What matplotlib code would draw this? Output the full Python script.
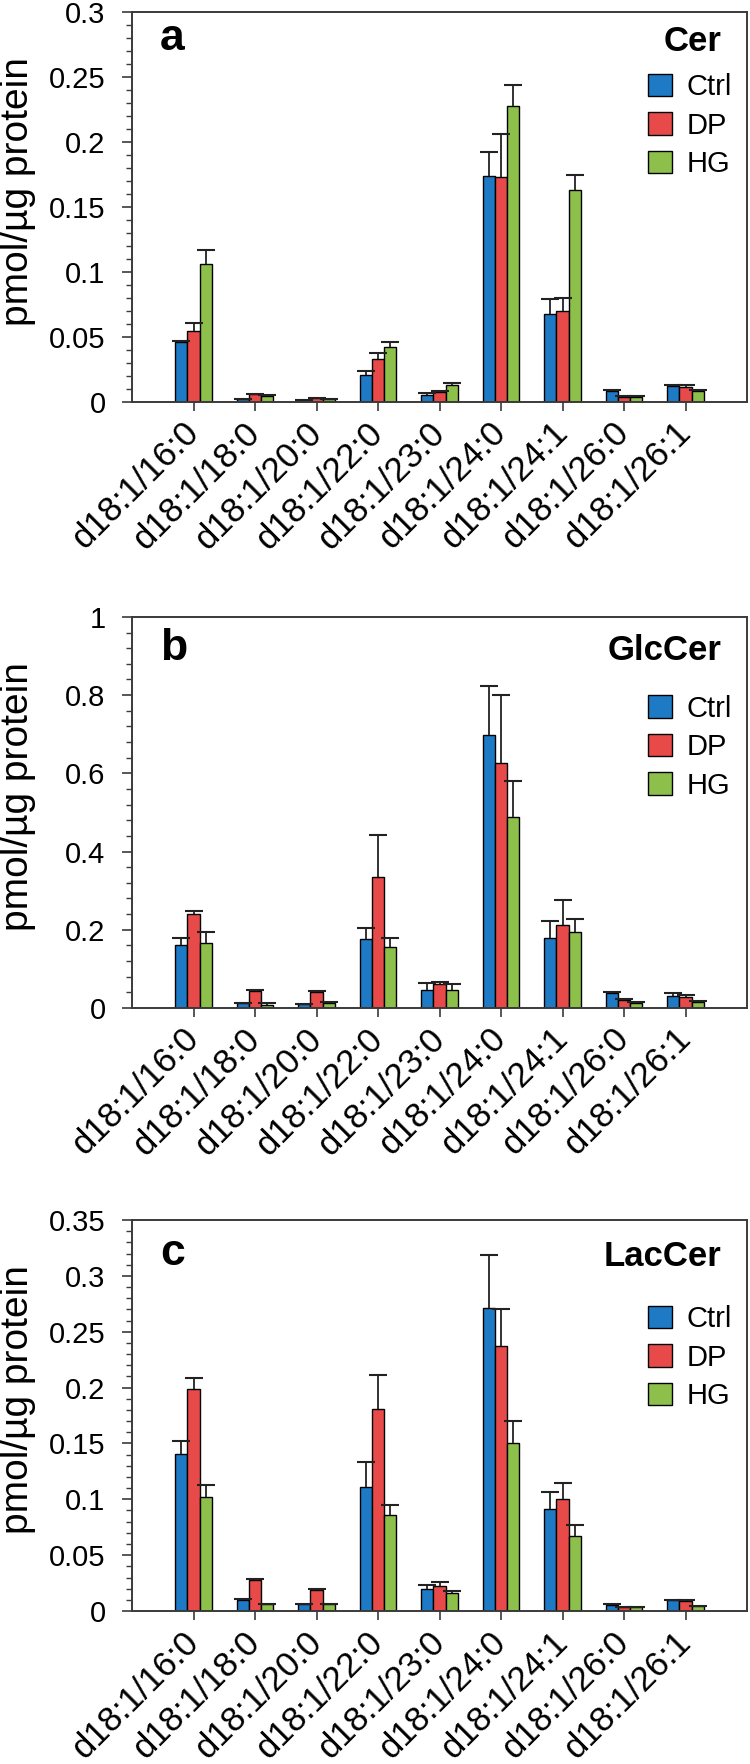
import numpy as np
import matplotlib
matplotlib.use("Agg")
import matplotlib.pyplot as plt
from matplotlib.patches import Patch
from matplotlib.ticker import MultipleLocator, FuncFormatter

plt.rcParams['font.family'] = ['Liberation Sans', 'DejaVu Sans']

categories = ["d18:1/16:0", "d18:1/18:0", "d18:1/20:0", "d18:1/22:0", "d18:1/23:0",
              "d18:1/24:0", "d18:1/24:1", "d18:1/26:0", "d18:1/26:1"]
groups = ["Ctrl", "DP", "HG"]
colors = ["#1f7ac6", "#e84a4a", "#8cc04a"]

# Panel a: Cer
cer_ctrl = [0.046, 0.002, 0.001, 0.021, 0.0056, 0.174, 0.068, 0.0087, 0.012]
cer_ctrl_err = [0.001, 0.0005, 0.0003, 0.003, 0.001, 0.018, 0.011, 0.0008, 0.0008]
cer_dp = [0.0546, 0.006, 0.003, 0.033, 0.0077, 0.173, 0.070, 0.004, 0.0115]
cer_dp_err = [0.006, 0.0005, 0.0003, 0.005, 0.001, 0.033, 0.010, 0.0005, 0.0015]
cer_hg = [0.106, 0.005, 0.002, 0.042, 0.0128, 0.228, 0.163, 0.004, 0.0085]
cer_hg_err = [0.011, 0.0005, 0.0003, 0.004, 0.002, 0.016, 0.012, 0.0005, 0.0004]

# Panel b: GlcCer
glc_ctrl = [0.162, 0.012, 0.010, 0.176, 0.047, 0.697, 0.179, 0.038, 0.030]
glc_ctrl_err = [0.018, 0.001, 0.001, 0.028, 0.016, 0.126, 0.043, 0.003, 0.008]
glc_dp = [0.240, 0.044, 0.041, 0.334, 0.060, 0.626, 0.213, 0.020, 0.027]
glc_dp_err = [0.008, 0.001, 0.0015, 0.107, 0.0055, 0.174, 0.063, 0.003, 0.007]
glc_hg = [0.165, 0.0085, 0.0136, 0.155, 0.046, 0.487, 0.193, 0.0136, 0.016]
glc_hg_err = [0.028, 0.0035, 0.001, 0.025, 0.014, 0.094, 0.035, 0.001, 0.001]

# Panel c: LacCer
lac_ctrl = [0.141, 0.0096, 0.0063, 0.111, 0.0197, 0.271, 0.091, 0.0057, 0.0096]
lac_ctrl_err = [0.0115, 0.0015, 0.0003, 0.022, 0.004, 0.048, 0.016, 0.0003, 0.0003]
lac_dp = [0.199, 0.028, 0.019, 0.181, 0.0224, 0.237, 0.100, 0.0036, 0.009]
lac_dp_err = [0.010, 0.0003, 0.0003, 0.030, 0.004, 0.033, 0.015, 0.0003, 0.0006]
lac_hg = [0.102, 0.006, 0.006, 0.086, 0.0164, 0.150, 0.067, 0.0036, 0.0045]
lac_hg_err = [0.011, 0.0003, 0.0003, 0.009, 0.002, 0.020, 0.010, 0.0003, 0.0003]

panels = [
    dict(letter="a", title="Cer", means=[cer_ctrl, cer_dp, cer_hg],
         errs=[cer_ctrl_err, cer_dp_err, cer_hg_err], ymax=0.3, major=0.05, minor=0.01,
         rect=[0.176, 0.7721, 0.82, 0.2211], leg_y=0.843, title_y=0.90, letter_y=0.903),
    dict(letter="b", title="GlcCer", means=[glc_ctrl, glc_dp, glc_hg],
         errs=[glc_ctrl_err, glc_dp_err, glc_hg_err], ymax=1.0, major=0.2, minor=0.04,
         rect=[0.176, 0.4286, 0.82, 0.2217], leg_y=0.801, title_y=0.89, letter_y=0.89),
    dict(letter="c", title="LacCer", means=[lac_ctrl, lac_dp, lac_hg],
         errs=[lac_ctrl_err, lac_dp_err, lac_hg_err], ymax=0.35, major=0.05, minor=0.01,
         rect=[0.176, 0.0867, 0.82, 0.2217], leg_y=0.782, title_y=0.882, letter_y=0.885),
]

fig = plt.figure(figsize=(7.5, 17.64), dpi=100)
x = np.arange(len(categories))
width = 0.2
offsets = [-0.2, 0.0, 0.2]
spine_col = "#3a3a3a"

def fmt(v, pos):
    return "%g" % round(v, 4)

for p in panels:
    ax = fig.add_axes(p["rect"])
    for i in range(3):
        vals = np.array(p["means"][i])
        errs = np.array(p["errs"][i])
        ax.bar(x + offsets[i], vals, width=width, color=colors[i],
               edgecolor="black", linewidth=1.0, zorder=2)
        eb = ax.errorbar(x + offsets[i], vals, yerr=[np.zeros_like(vals), errs],
                         fmt="none", ecolor="#222222", elinewidth=1.3,
                         capsize=6.5, capthick=1.5, zorder=3)
        for cl in eb.lines[1]:
            yd = np.asarray(cl.get_ydata(), dtype=float)
            if len(yd) == len(vals) and np.allclose(yd, vals):
                cl.set_visible(False)
    ax.set_xlim(-1, 9)
    ax.set_ylim(0, p["ymax"])
    ax.yaxis.set_major_locator(MultipleLocator(p["major"]))
    ax.yaxis.set_minor_locator(MultipleLocator(p["minor"]))
    ax.yaxis.set_major_formatter(FuncFormatter(fmt))
    ax.set_xticks(x)
    ax.set_xticklabels(categories, rotation=45, ha="right", va="center",
                       rotation_mode="anchor", fontsize=25)
    ax.tick_params(axis="x", direction="out", length=6.5, width=1.2, pad=12,
                   color=spine_col)
    ax.tick_params(axis="y", which="major", direction="out", length=7, width=1.2,
                   pad=12, labelsize=21, color=spine_col)
    ax.tick_params(axis="y", which="minor", direction="out", length=4, width=1.0,
                   color=spine_col)
    for s in ax.spines.values():
        s.set_color(spine_col)
        s.set_linewidth(1.4)
    ax.set_ylabel("pmol/\u00b5g protein", fontsize=28)
    ax.yaxis.set_label_coords(-0.156, 0.54)
    ax.text(0.0455, p["letter_y"], p["letter"], transform=ax.transAxes,
            fontsize=32, fontweight="bold", ha="left", va="baseline")
    ax.text(0.959, p["title_y"], p["title"], transform=ax.transAxes,
            fontsize=25, fontweight="bold", ha="right", va="baseline")
    handles = [Patch(facecolor=colors[i], edgecolor="black", linewidth=1.0)
               for i in range(3)]
    ax.legend(handles, groups, loc="upper left", bbox_to_anchor=(0.839, p["leg_y"]),
              frameon=False, fontsize=21, handlelength=0.82, handleheight=0.82,
              labelspacing=0.36, handletextpad=0.5, borderpad=0, borderaxespad=0)

fig.savefig("out.png", dpi=100)
